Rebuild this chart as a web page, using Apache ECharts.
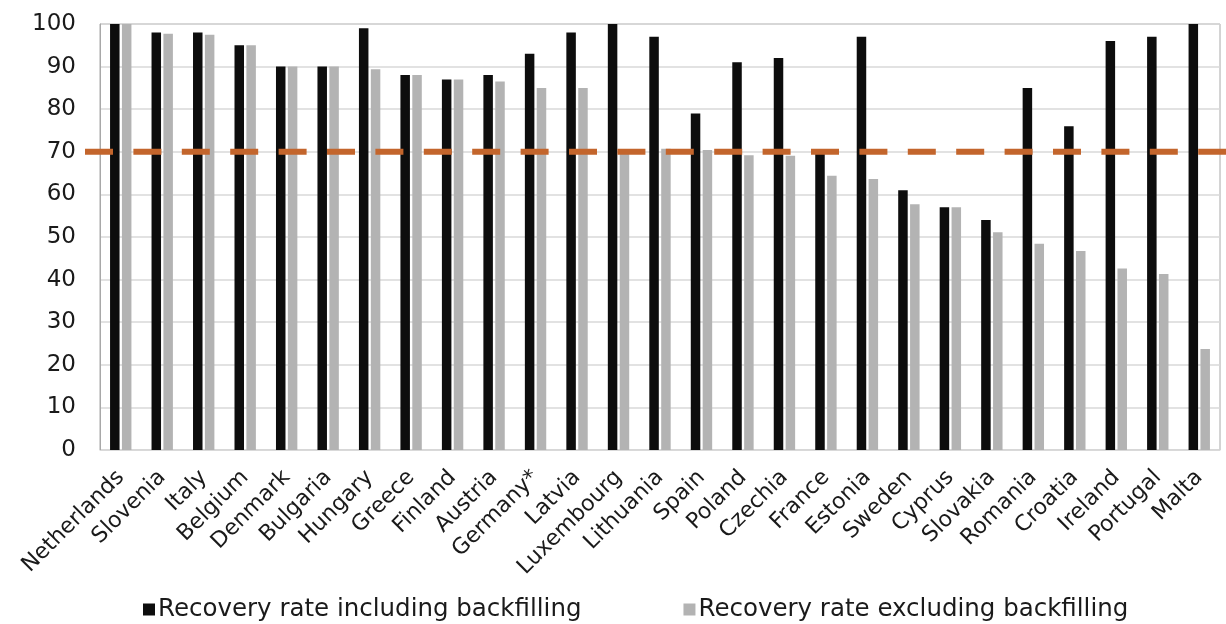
<!DOCTYPE html>
<html>
<head>
<meta charset="utf-8">
<script src="https://cdn.jsdelivr.net/npm/echarts@6/dist/echarts.min.js"></script>
<style>
  html, body { margin: 0; padding: 0; background: #ffffff; }
  #chart { width: 1226px; height: 624px; }
</style>
</head>
<body>
<div id="chart"></div>
<script>
// Member states, ordered as plotted
const countries = ['Netherlands', 'Slovenia', 'Italy', 'Belgium', 'Denmark', 'Bulgaria', 'Hungary',
  'Greece', 'Finland', 'Austria', 'Germany*', 'Latvia', 'Luxembourg', 'Lithuania', 'Spain', 'Poland',
  'Czechia', 'France', 'Estonia', 'Sweden', 'Cyprus', 'Slovakia', 'Romania', 'Croatia', 'Ireland',
  'Portugal', 'Malta'];

// Recovery rate including backfilling (%)
const inclBackfilling = [100, 98, 98, 95, 90, 90, 99, 88, 87, 88, 93, 98, 100, 97, 79, 91,
  92, 69.6, 97, 61, 57, 54, 85, 76, 96, 97, 100];

// Recovery rate excluding backfilling (%)
const exclBackfilling = [100, 97.7, 97.5, 95, 90, 90, 89.4, 88, 87, 86.5, 85, 85, 69.5, 70.7, 70.4, 69.2,
  69.1, 64.4, 63.6, 57.7, 57, 51.1, 48.4, 46.7, 42.6, 41.3, 23.7];

const seriesNames = ['Recovery rate including backfilling', 'Recovery rate excluding backfilling'];

// Target recovery rate
const targetRate = 70;

// Value axis ticks
const yMin = 0, yMax = 100, yStep = 10;

const FONT = 'DejaVu Sans';

const chart = echarts.init(document.getElementById('chart'), null, { renderer: 'canvas' });

chart.setOption({
  backgroundColor: '#ffffff',
  animation: false,
  textStyle: { fontFamily: FONT, color: '#1a1a1a' },
  grid: {
    left: 100, right: 6, top: 24, bottom: 174,
    show: true, borderColor: '#a8a8a8', borderWidth: 1
  },
  legend: {
    data: seriesNames,
    left: 138, top: 592,
    icon: 'rect', itemWidth: 12, itemHeight: 12, itemGap: 102,
    textStyle: { fontFamily: FONT, fontSize: 24.5, color: '#1a1a1a', padding: [0, 0, 0, -2] }
  },
  xAxis: {
    type: 'category',
    data: countries,
    axisLine: { show: true, lineStyle: { color: '#d9d9d9', width: 1 } },
    axisTick: { show: false },
    axisLabel: { interval: 0, rotate: 45, fontFamily: FONT, fontSize: 22, color: '#1a1a1a', margin: 24 }
  },
  yAxis: {
    type: 'value',
    min: yMin, max: yMax, interval: yStep,
    axisLine: { show: true, lineStyle: { color: '#a8a8a8' } },
    axisTick: { show: false },
    splitLine: { lineStyle: { color: '#d9d9d9', width: 1.5 } },
    axisLabel: { fontFamily: FONT, fontSize: 23, color: '#1a1a1a', margin: 24 }
  },
  series: [
    {
      name: seriesNames[0], type: 'bar', data: inclBackfilling,
      barWidth: 9.5, barGap: '25%',
      itemStyle: { color: '#0d0d0d' }
    },
    {
      name: seriesNames[1], type: 'bar', data: exclBackfilling,
      barWidth: 9.5,
      itemStyle: { color: '#b3b3b3' }
    }
  ]
});

// Dashed target line at 70 %, running past the plot edges like the source chart
function drawTarget() {
  const y = chart.convertToPixel({ yAxisIndex: 0 }, targetRate);
  chart.setOption({
    graphic: [{
      id: 'target',
      type: 'line',
      z: 100,
      shape: { x1: 85, y1: y, x2: chart.getWidth(), y2: y },
      style: { stroke: '#c3652c', lineWidth: 6, lineDash: [28, 20.4] }
    }]
  });
}
drawTarget();
</script>
</body>
</html>
